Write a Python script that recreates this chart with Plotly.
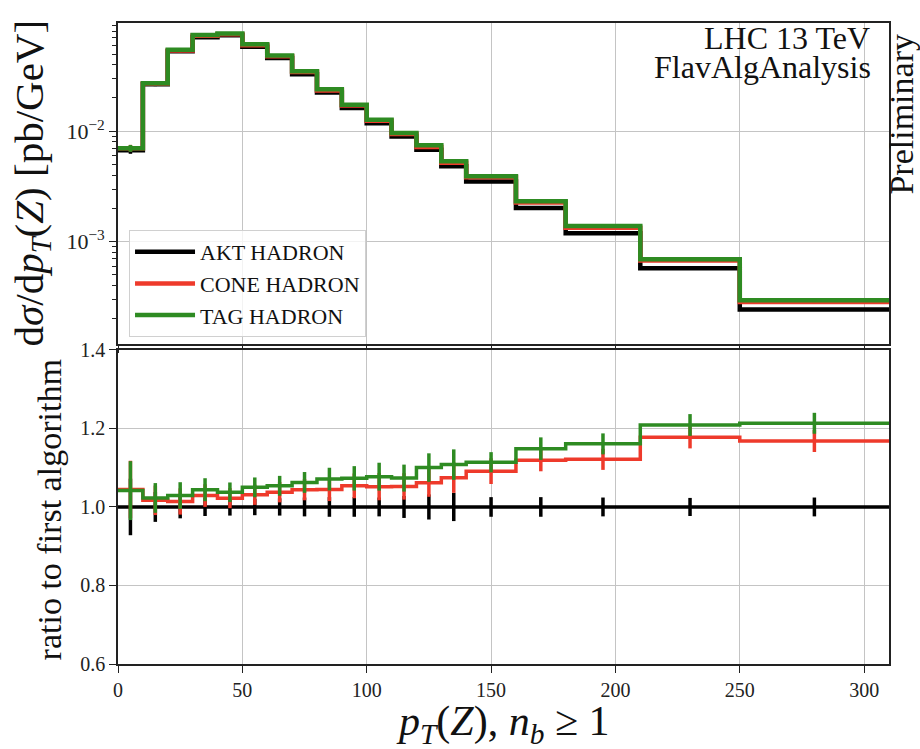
import numpy as np
import plotly.graph_objects as go

# Bin edges in pT(Z) [GeV]
edges = [0, 10, 20, 30, 40, 50, 60, 70, 80, 90, 100, 110, 120, 130, 140, 160, 180, 210, 250, 310]

# Differential cross sections dσ/dpT(Z) [pb/GeV] per algorithm
akt_xsec = [6.73e-3, 2.659e-2, 5.296e-2, 7.098e-2, 7.393e-2, 5.829e-2, 4.602e-2, 3.285e-2,
            2.241e-2, 1.620e-2, 1.180e-2, 8.98e-3, 6.78e-3, 4.82e-3, 3.51e-3, 2.02e-3,
            1.195e-3, 5.75e-4, 2.44e-4]
cone_xsec = [7.03e-3, 2.704e-2, 5.370e-2, 7.304e-2, 7.559e-2, 6.010e-2, 4.775e-2, 3.430e-2,
             2.340e-2, 1.707e-2, 1.241e-2, 9.45e-3, 7.20e-3, 5.18e-3, 3.83e-3, 2.26e-3,
             1.340e-3, 6.77e-4, 2.85e-4]
tag_xsec = [7.01e-3, 2.72e-2, 5.45e-2, 7.41e-2, 7.67e-2, 6.12e-2, 4.85e-2, 3.49e-2,
            2.40e-2, 1.738e-2, 1.271e-2, 9.64e-3, 7.46e-3, 5.34e-3, 3.91e-3, 2.32e-3,
            1.387e-3, 6.95e-4, 2.96e-4]

# Relative statistical uncertainties per bin
akt_relerr = [0.072, 0.038, 0.029, 0.023, 0.022, 0.021, 0.022, 0.024, 0.025, 0.025,
              0.024, 0.028, 0.032, 0.036, 0.025, 0.025, 0.024, 0.023, 0.024]
cone_relerr = [0.070, 0.037, 0.033, 0.028, 0.025, 0.025, 0.025, 0.026, 0.028, 0.030,
               0.033, 0.032, 0.034, 0.036, 0.030, 0.025, 0.024, 0.024, 0.024]
tag_relerr = [0.072, 0.037, 0.033, 0.028, 0.024, 0.024, 0.024, 0.025, 0.027, 0.029,
              0.033, 0.032, 0.033, 0.035, 0.023, 0.025, 0.023, 0.023, 0.022]

series_names = ["AKT HADRON", "CONE HADRON", "TAG HADRON"]
series_colors = ["#000000", "#ee3a2b", "#2e8b22"]

# log-axis decade labels
decade_vals = [1e-3, 1e-2]
decade_text = ["10<sup>−3</sup>", "10<sup>−2</sup>"]

FONT = "Liberation Serif"

edges_a = np.array(edges, dtype=float)
centers = 0.5 * (edges_a[:-1] + edges_a[1:])
akt = np.array(akt_xsec)

fig = go.Figure()

all_xsec = [np.array(akt_xsec), np.array(cone_xsec), np.array(tag_xsec)]
all_rel = [np.array(akt_relerr), np.array(cone_relerr), np.array(tag_relerr)]

for name, color, xs, rel in zip(series_names, series_colors, all_xsec, all_rel):
    # upper panel: step histogram
    fig.add_trace(go.Scatter(
        x=edges_a, y=np.append(xs, xs[-1]), mode="lines", line_shape="hv",
        line=dict(color=color, width=4.5), name=name, showlegend=True,
        xaxis="x", yaxis="y", hoverinfo="skip"))
    fig.add_trace(go.Scatter(
        x=centers, y=xs, mode="markers", marker=dict(size=1, color="rgba(0,0,0,0)"),
        error_y=dict(type="data", array=xs * rel, color=color, thickness=3.5, width=0),
        showlegend=False, xaxis="x", yaxis="y", hoverinfo="skip"))
    # lower panel: ratio to the first algorithm
    ratio = xs / akt
    fig.add_trace(go.Scatter(
        x=edges_a, y=np.append(ratio, ratio[-1]), mode="lines", line_shape="hv",
        line=dict(color=color, width=3.5), showlegend=False,
        xaxis="x2", yaxis="y2", hoverinfo="skip"))
    fig.add_trace(go.Scatter(
        x=centers, y=ratio, mode="markers", marker=dict(size=1, color="rgba(0,0,0,0)"),
        error_y=dict(type="data", array=ratio * rel, color=color, thickness=3.5, width=0),
        showlegend=False, xaxis="x2", yaxis="y2", hoverinfo="skip"))

axis_common = dict(
    showline=True, linecolor="#222222", linewidth=1.6, mirror=True,
    ticks="outside", ticklen=7, tickwidth=1.4, tickcolor="#222222",
    showgrid=True, gridcolor="#c4c4c4", gridwidth=1.4, zeroline=False,
    tickfont=dict(family=FONT, size=20, color="#222222"),
)

# minor tick positions on the logarithmic axis (2..9 x each decade)
log_minor = [m * 10.0 ** p for p in (-4, -3, -2) for m in range(2, 10)]

log_axis = dict(axis_common)
log_axis["tickfont"] = dict(family=FONT, size=22, color="#222222")

fig.update_layout(
    width=920, height=749,
    paper_bgcolor="white", plot_bgcolor="white",
    margin=dict(l=118, r=31, t=13, b=85),
    font=dict(family=FONT, color="#111111"),
    xaxis=dict(domain=[0, 1], range=[0, 310], anchor="y", matches="x2",
               showticklabels=False, dtick=50, **axis_common),
    yaxis=dict(domain=[0.4992, 1], type="log",
               range=[np.log10(1.186e-4), np.log10(0.0954)],
               tickmode="array", tickvals=decade_vals, ticktext=decade_text,
               minor=dict(ticks="outside", ticklen=4, tickwidth=1.2, tickcolor="#222222",
                          tickmode="array", tickvals=log_minor, showgrid=False),
               **log_axis),
    xaxis2=dict(domain=[0, 1], range=[0, 310], anchor="y2", dtick=50,
                **axis_common),
    yaxis2=dict(domain=[0, 0.490], range=[0.6, 1.4], dtick=0.2, tick0=0.6,
                tickformat=".1f", **axis_common),
    legend=dict(
        x=0.0143, y=0.677, xanchor="left", yanchor="top",
        bgcolor="rgba(255,255,255,0.8)", bordercolor="#d0d0d0", borderwidth=1,
        font=dict(family=FONT, size=22, color="#111111"),
        itemwidth=60, tracegroupgap=0,
    ),
)

annotations = [
    dict(text="LHC 13 TeV", x=(872 - 118) / 771, y=(664 - 28) / 651,
         xanchor="right", yanchor="middle", showarrow=False,
         font=dict(family=FONT, size=32, color="#111111")),
    dict(text="FlavAlgAnalysis", x=(873 - 118) / 771, y=(664 - 58) / 651,
         xanchor="right", yanchor="middle", showarrow=False,
         font=dict(family=FONT, size=32, color="#111111")),
    dict(text="Preliminary", x=(902 - 118) / 771, y=(664 - 106) / 651,
         xanchor="center", yanchor="middle", textangle=-90, showarrow=False,
         font=dict(family=FONT, size=34, color="#111111")),
    dict(text="d<i>σ</i>/d<i>p</i><sub><i>T</i></sub>(<i>Z</i>) [pb/GeV]",
         x=(32 - 118) / 771, y=(664 - 176) / 651,
         xanchor="center", yanchor="middle", textangle=-90, showarrow=False,
         font=dict(family=FONT, size=41, color="#111111")),
    dict(text="ratio to first algorithm",
         x=(49 - 118) / 771, y=(664 - 508) / 651,
         xanchor="center", yanchor="middle", textangle=-90, showarrow=False,
         font=dict(family=FONT, size=34, color="#111111")),
    dict(text="<i>p</i><sub><i>T</i></sub>(<i>Z</i>), <i>n</i><sub><i>b</i></sub> ≥ 1",
         x=(502 - 118) / 771, y=(664 - 725) / 651,
         xanchor="center", yanchor="middle", showarrow=False,
         font=dict(family=FONT, size=42, color="#111111")),
]
for a in annotations:
    a.update(xref="paper", yref="paper")
fig.update_layout(annotations=annotations)

fig.write_html("out.html")
